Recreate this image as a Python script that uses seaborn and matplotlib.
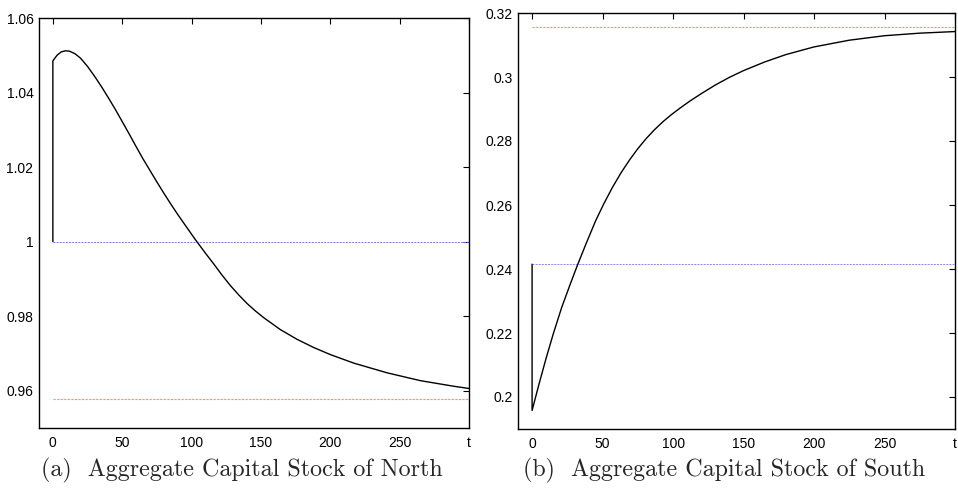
import matplotlib
matplotlib.use("Agg")
import matplotlib.pyplot as plt
import seaborn as sns
import pandas as pd

# ---- data ----
north_t = [0, 0, 3, 6, 9, 12, 16, 20, 25, 30, 35, 40, 45, 50, 55, 60, 65, 70, 75, 80,
           85, 90, 96, 103, 110, 116, 122, 128, 134, 140, 146, 152, 164, 176, 188,
           200, 217, 241, 265, 289, 300]
north_k = [1.0, 1.0485, 1.0500, 1.0509, 1.0512, 1.0511, 1.0504, 1.0492, 1.0470, 1.0444,
           1.0416, 1.0386, 1.0355, 1.0322, 1.0289, 1.0255, 1.0222, 1.0191, 1.0160, 1.0130,
           1.0101, 1.0073, 1.0041, 1.0004, 0.9969, 0.9940, 0.9910, 0.9882, 0.9857, 0.9834,
           0.9814, 0.9796, 0.9764, 0.9738, 0.9716, 0.9697, 0.9674, 0.9648, 0.9627, 0.9612,
           0.9606]
north_init = 1.0
north_ss = 0.9578

south_t = [0, 0, 5, 10, 15, 21, 27, 32, 38, 45, 51, 57, 63, 69, 75, 81, 87, 93, 99,
           105, 112, 120, 130, 140, 150, 165, 180, 200, 225, 250, 275, 300]
south_k = [0.2415, 0.1958, 0.2042, 0.2122, 0.2197, 0.2280, 0.2352, 0.2410, 0.2476, 0.2550,
           0.2605, 0.2655, 0.2700, 0.2740, 0.2776, 0.2808, 0.2836, 0.2861, 0.2883, 0.2903,
           0.2925, 0.2948, 0.2975, 0.2999, 0.3020, 0.3047, 0.3070, 0.3094, 0.3115, 0.3129,
           0.3137, 0.3142]
south_init = 0.2415
south_ss = 0.3156

x_ticks = [0, 50, 100, 150, 200, 250, 300]
x_ticklabels = ["0", "50", "100", "150", "200", "250", "t"]
north_yticks = [0.96, 0.98, 1.0, 1.02, 1.04, 1.06]
north_yticklabels = ["0.96", "0.98", "1", "1.02", "1.04", "1.06"]
south_yticks = [0.2, 0.22, 0.24, 0.26, 0.28, 0.3, 0.32]
south_yticklabels = ["0.2", "0.22", "0.24", "0.26", "0.28", "0.3", "0.32"]
captions = ["(a)  Aggregate Capital Stock of North", "(b)  Aggregate Capital Stock of South"]

sns.set_style("white")
plt.rcParams["font.family"] = ["Liberation Sans", "DejaVu Sans"]

fig = plt.figure(figsize=(9.58, 4.91), dpi=100)
ax1 = fig.add_axes([39/958, 1-428/491, (469-39)/958, (428-18)/491])
ax2 = fig.add_axes([518/958, 1-429/491, (955-518)/958, (429-13)/491])

df_n = pd.DataFrame({"t": north_t, "k": north_k})
df_s = pd.DataFrame({"t": south_t, "k": south_k})

def panel(ax, df, init, ss, init_color, ylim, yticks, yticklabels):
    ax.plot([0, 300], [init, init], color=init_color, linestyle=(0, (2, 1.2)), linewidth=0.7)
    sns.lineplot(data=df, x="t", y="k", ax=ax, color="black", linewidth=1.0,
                 estimator=None, sort=False)
    ax.plot([0, 300], [ss, ss], color="#ff8c8c", linestyle=(0, (2, 1.2)),
            linewidth=0.8, zorder=1)
    ax.set_xlim(-10, 300)
    ax.set_ylim(*ylim)
    ax.set_xticks(x_ticks)
    ax.set_xticklabels(x_ticklabels)
    ax.set_yticks(yticks)
    ax.set_yticklabels(yticklabels)
    ax.set_xlabel("")
    ax.set_ylabel("")
    ax.tick_params(direction="in", length=4, width=0.8, top=True, right=True,
                   labelsize=10, colors="black", pad=4)
    ax.tick_params(axis="x", pad=6)
    for s in ax.spines.values():
        s.set_visible(True)
        s.set_color("black")
        s.set_linewidth(1.0)

panel(ax1, df_n, north_init, north_ss, "#7777ff", (0.95, 1.06), north_yticks, north_yticklabels)
panel(ax2, df_s, south_init, south_ss, "#8888ff", (0.19, 0.32), south_yticks, south_yticklabels)

fig.text(241.5/958, 1-470/491, captions[0], ha="center", va="center",
         fontsize=17.3, family=["cmr10", "DejaVu Serif"])
fig.text(724/958, 1-470/491, captions[1], ha="center", va="center",
         fontsize=17.3, family=["cmr10", "DejaVu Serif"])

fig.savefig("out.png", dpi=100)
